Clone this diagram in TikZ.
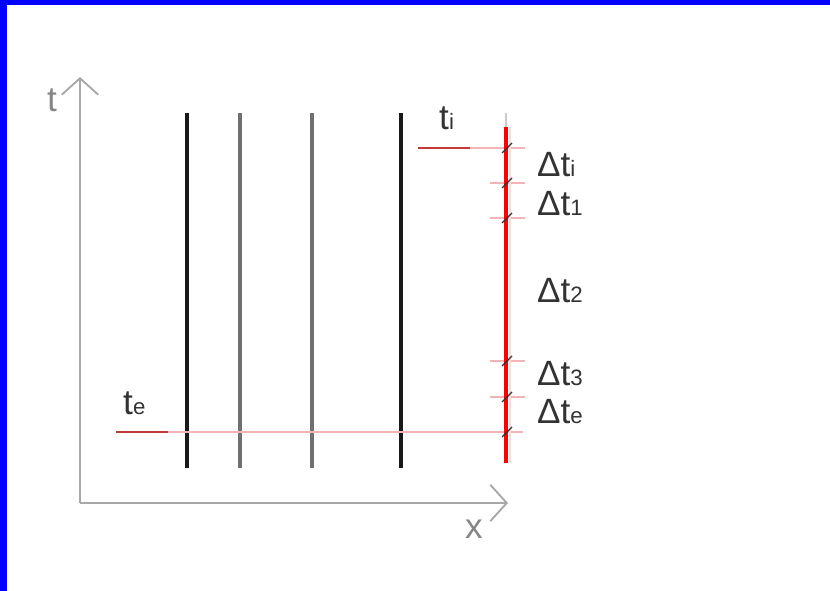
\documentclass[tikz,border=0pt]{standalone}
\usepackage{fontspec}
\setmainfont{Liberation Sans}
\usepackage{xcolor}
\usetikzlibrary{arrows.meta}
\definecolor{axisgray}{HTML}{A8A8A8}
\definecolor{tickpink}{HTML}{F2B4B4}
\definecolor{markred}{HTML}{C43838}
\definecolor{linegray}{HTML}{707070}
\definecolor{labelgray}{HTML}{333333}
\newcommand{\sbs}[1]{{\fontsize{19}{20}\selectfont #1}}

\begin{document}
\begin{tikzpicture}[x=0.03cm, y=-0.03cm,
    lbl/.style={anchor=base west, inner sep=0pt, text=labelgray, font=\fontsize{30}{32}\selectfont},
    axis/.style={axisgray, line width=1.6pt, -{Straight Barb[length=14pt,width=31pt]}},
    wire/.style={line width=2.6pt},
    level/.style={tickpink, line width=1pt},
    redseg/.style={markred, line width=2.5pt}]
    \useasboundingbox (0,0) rectangle (830,591);
    % Frame
    \fill[blue] (0,0) rectangle (830,5);
    \fill[blue] (0,0) rectangle (7,591);

    % Axes
    \coordinate (origin) at (80,503);
    \coordinate (ttip) at (80,77);
    \coordinate (xtip) at (508,503);
    \draw[axis] (origin) -- (ttip);
    \draw[axis] (origin) -- (xtip);
    \node[lbl, text=axisgray!80!black] (tlabel) at (47,112) {t};
    \node[lbl, text=axisgray!80!black] (xlabel) at (465,538) {x};

    % Vertical lines
    \draw[wire, black!90] (187,113) -- (187,468);
    \draw[wire, linegray] (240,113) -- (240,468);
    \draw[wire, linegray] (312,113) -- (312,468);
    \draw[wire, black!90] (401,113) -- (401,468);

    % Levels
    \draw[level] (470,148) -- (525,148);
    \draw[level] (168,432) -- (523,432);
    \foreach \y in {183,218,361,397}
      \draw[level] (490,\y) -- (525,\y);
    \draw[redseg] (418,148) -- (470,148);
    \draw[redseg] (116,432) -- (168,432);

    % Red line
    \draw[axisgray!60, line width=1pt] (506,113) -- (506,127);
    \draw[tickpink!50, line width=1pt] (510,127) -- (510,463);
    \draw[red, line width=3.8pt] (506,127) -- (506,463);
    \foreach \y in {148,183,218,361,397,432}
      \draw[labelgray, line width=1.1pt] (502,\y+5) -- (512,\y-5);

    % Labels
    \node[lbl] (tilabel) at (439,129) {t\sbs{i}};
    \node[lbl] (telabel) at (123,414) {t\sbs{e}};
    \node[lbl] (dti) at (537,176) {Δt\sbs{i}};
    \node[lbl] (dt1) at (537,215) {Δt\sbs{1}};
    \node[lbl] (dt2) at (537,302) {Δt\sbs{2}};
    \node[lbl] (dt3) at (537,385) {Δt\sbs{3}};
    \node[lbl] (dte) at (537,423) {Δt\sbs{e}};
\end{tikzpicture}
\end{document}
